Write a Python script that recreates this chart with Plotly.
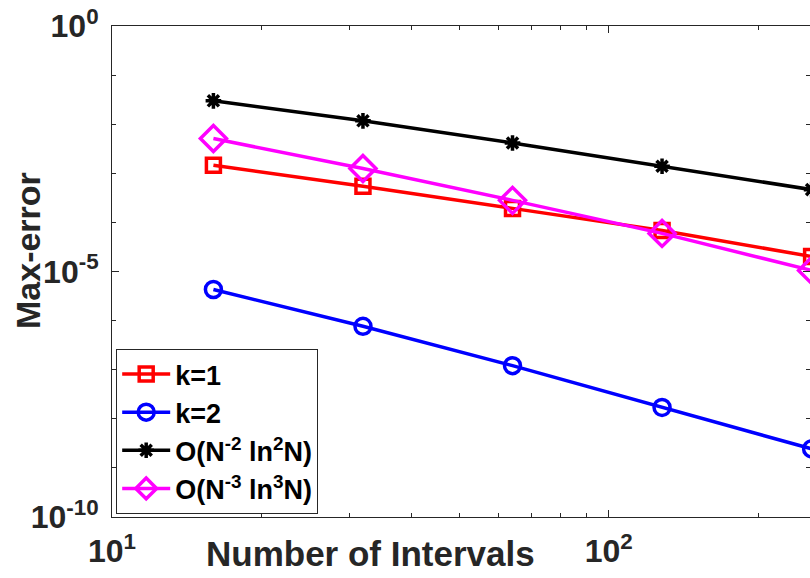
import plotly.graph_objects as go

N = [16, 32, 64, 128, 256]
k1 = [1.46e-3, 5.43e-4, 1.93e-4, 6.87e-5, 2.02e-5]
k2 = [4.3e-6, 7.66e-7, 1.21e-7, 1.70e-8, 2.44e-9]
ref2 = [2.99e-2, 1.17e-2, 4.15e-3, 1.39e-3, 4.65e-4]
ref3 = [5.1e-3, 1.25e-3, 2.81e-4, 5.97e-5, 1.05e-5]

names = ["k=1", "k=2", "O(N<sup>-2</sup> ln<sup>2</sup>N)", "O(N<sup>-3</sup> ln<sup>3</sup>N)"]

x_major = [10, 100]
x_minor = [20, 30, 40, 50, 60, 70, 80, 90, 200]
x_major_text = ["10<sup>1</sup>", "10<sup>2</sup>"]
y_major = [1e0, 1e-5, 1e-10]
y_major_text = ["10<sup>0</sup>", "10<sup>-5</sup>", "10<sup>-10</sup>"]
y_minor = [1e-1, 1e-2, 1e-3, 1e-4, 1e-6, 1e-7, 1e-8, 1e-9]

FONT = "Liberation Sans, Arial, Helvetica, sans-serif"
AX = "#262626"
LW = 3.5

fig = go.Figure()
fig.add_trace(go.Scatter(x=N, y=k1, name=names[0], mode="lines+markers",
                         line=dict(color="#ff0000", width=LW),
                         marker=dict(symbol="square-open", size=14, color="#ff0000", line=dict(width=3.5))))
fig.add_trace(go.Scatter(x=N, y=k2, name=names[1], mode="lines+markers",
                         line=dict(color="#0000ff", width=LW),
                         marker=dict(symbol="circle-open", size=16, color="#0000ff", line=dict(width=3.5))))
fig.add_trace(go.Scatter(x=N, y=ref2, name=names[2], mode="lines+markers",
                         line=dict(color="#000000", width=LW),
                         marker=dict(symbol="asterisk-open", size=13, color="#000000", line=dict(width=3.5))))
fig.add_trace(go.Scatter(x=N, y=ref3, name=names[3], mode="lines+markers",
                         line=dict(color="#ff00ff", width=LW),
                         marker=dict(symbol="diamond-open", size=20, color="#ff00ff", line=dict(width=3.5))))

fig.update_layout(
    width=810, height=578,
    margin=dict(l=112, r=0, t=26, b=61),
    paper_bgcolor="white", plot_bgcolor="white",
    font=dict(family=FONT, color=AX),
    showlegend=True,
    legend=dict(x=0.006, y=0.006, xanchor="left", yanchor="bottom",
                bgcolor="white", bordercolor=AX, borderwidth=1,
                font=dict(family=FONT, size=27, color="#000000", weight="bold"),
                itemwidth=48, tracegroupgap=0),
    xaxis=dict(type="log", range=[1, 2.405], showgrid=False, zeroline=False,
               showline=True, linecolor=AX, linewidth=1, mirror="ticks",
               ticks="inside", ticklen=7, tickwidth=1, tickcolor=AX,
               tickmode="array", tickvals=x_major, ticktext=x_major_text,
               tickfont=dict(family=FONT, size=32, color=AX, weight="bold"),
               ticklabelstandoff=6,
               minor=dict(tickmode="array", tickvals=x_minor, ticks="inside",
                          ticklen=4, tickwidth=1, tickcolor=AX, showgrid=False)),
    yaxis=dict(type="log", range=[-10, 0], showgrid=False, zeroline=False,
               showline=True, linecolor=AX, linewidth=1, mirror="ticks",
               ticks="inside", ticklen=7, tickwidth=1, tickcolor=AX,
               tickmode="array", tickvals=y_major, ticktext=y_major_text,
               tickfont=dict(family=FONT, size=32, color=AX, weight="bold"),
               ticklabelstandoff=6,
               minor=dict(tickmode="array", tickvals=y_minor, ticks="inside",
                          ticklen=4, tickwidth=1, tickcolor=AX, showgrid=False)),
)

fig.add_annotation(text="Number of Intervals", xref="paper", yref="paper",
                   x=(370 - 112) / 698, y=-(553 - 517) / 491, xanchor="center", yanchor="middle",
                   showarrow=False, font=dict(family=FONT, size=35, color=AX, weight="bold"))
fig.add_annotation(text="Max-error", xref="paper", yref="paper",
                   x=-(112 - 28) / 698, y=(517 - 251) / 491, xanchor="center", yanchor="middle",
                   textangle=-90, showarrow=False,
                   font=dict(family=FONT, size=34, color=AX, weight="bold"))

fig.write_html("out.html")
